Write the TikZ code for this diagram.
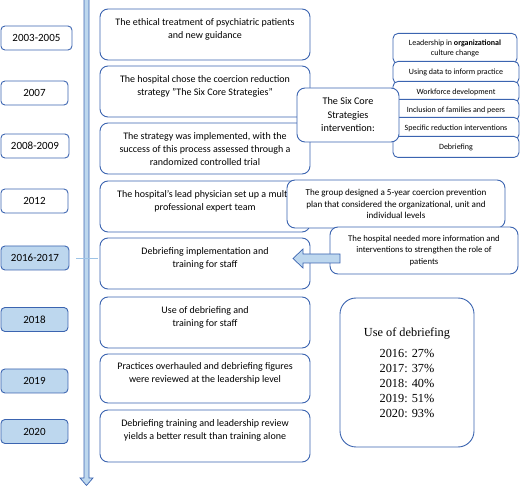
\documentclass[tikz,border=0pt]{standalone}
\usepackage{fontspec}
\setmainfont{Carlito}
\newfontfamily\statsfont{Liberation Serif}
\usepackage{tikz}
\usetikzlibrary{positioning}
\definecolor{edge}{HTML}{3B64B0}
\definecolor{lightb}{HTML}{BDD7EE}
\definecolor{tickc}{HTML}{9DC3E6}
\tikzset{
every picture/.style={
line width=0.9pt
}}
\newcommand{\evt}[1]{\parbox[c][37pt][t]{206pt}{\centering\strut #1}}

\begin{document}
\begin{tikzpicture}[x=1pt, y=-1pt,
year/.style = {draw=edge, fill=white, rounded corners=4pt, minimum height=24pt, inner sep=0pt, anchor=west, font=\fontsize{11}{13}\selectfont},
yearhl/.style = {year, fill=lightb},
event/.style = {draw=edge, fill=white, rounded corners=8pt, minimum width=210pt, minimum height=51pt, inner sep=0pt, font=\fontsize{10}{13}\selectfont},
strat/.style = {draw=edge, fill=white, rounded corners=5pt, minimum width=126pt, inner sep=1pt, anchor=north, align=center, font=\fontsize{8}{10}\selectfont},
note/.style = {draw=edge, fill=white, rounded corners=8pt, inner sep=0pt, align=center}]

\useasboundingbox (0,0) rectangle (520,486);

% years
\node [year, minimum width=71pt] at (0.5,38) (y0305) {2003-2005};
\node [year, minimum width=67pt] at (0.5,93) (y07) {2007};
\node [year, minimum width=68pt] at (0.5,146) (y0809) {2008-2009};
\node [year, minimum width=67pt] at (0.5,201) (y12) {2012};
\node [yearhl, minimum width=68pt] at (0.5,258) (y1617) {2016-2017};
\node [yearhl, minimum width=67pt] at (0.5,319.5) (y18) {2018};
\node [yearhl, minimum width=67pt] at (0.5,381) (y19) {2019};
\node [yearhl, minimum width=67pt] at (0.5,431.5) (y20) {2020};

% timeline
\draw [draw=edge, fill=lightb, line width=0.7pt] (84,-2) -- (84,478) -- (80,478) -- (86.5,485.5) -- (93,478) -- (89,478) -- (89,-2) -- cycle;
\draw [tickc, line width=0.7pt] ([xshift=7pt]y1617.east) -- ++(22pt,0);

% events
\node [event] at (205,34.5) (e1) {\evt{The ethical treatment of psychiatric patients\\and new guidance}};
\node [event] at (205,91.5) (e2) {\evt{The hospital chose the coercion reduction\\strategy "The Six Core Strategies"}};
\node [event] at (205,148.5) (e3) {\evt{The strategy was implemented, with the\\success of this process assessed through a\\randomized controlled trial}};
\node [event] at (205,206.5) (e4) {\evt{The hospital’s lead physician set up a multi-\\professional expert team}};
\node [event] at (205,263.5) (e5) {\evt{Debriefing implementation and\\training for staff}};
\node [event] at (205,322.5) (e6) {\evt{Use of debriefing and\\training for staff}};
\node [event, minimum height=49pt] at (205,378.5) (e7) {\evt{Practices overhauled and debriefing figures\\were reviewed at the leadership level}};
\node [event, minimum height=52pt] at (205,436) (e8) {\evt{Debriefing training and leadership review\\yields a better result than training alone}};

% six core strategies
\node [strat, minimum width=124pt, minimum height=30pt] at (455,33) (s1) {Leadership in \textbf{organizational}\\culture change};
\node [strat, minimum height=22pt] at (456,61) (s2) {Using data to inform practice};
\node [strat, minimum height=21pt] at (456,81) (s3) {Workforce development};
\node [strat, minimum height=21pt] at (456,99) (s4) {Inclusion of families and peers};
\node [strat, minimum height=22pt] at (456,117) (s5) {Specific reduction interventions};
\node [strat, minimum height=21pt] at (456,136) (s6) {Debriefing};
\node [note, minimum width=102pt, minimum height=54pt, font=\fontsize{10.2}{13.5}\selectfont] at (348,115) (six) {The Six Core\\Strategies\\intervention:};

\node [note, minimum width=218pt, minimum height=48pt, font=\fontsize{9.1}{11.7}\selectfont] at (396,204) (plan) {The group designed a 5-year coercion prevention\\plan that considered the organizational, unit and\\individual levels};
\node [note, minimum width=188pt, minimum height=47pt, font=\fontsize{8.7}{11.8}\selectfont] at (424,250.5) (need) {The hospital needed more information and\\interventions to strengthen the role of\\patients};

\draw [draw=edge, fill=lightb, line width=0.7pt] (340,254) -- (303,254) -- (303,249) -- (293,258.5) -- (303,268) -- (303,263) -- (340,263) -- cycle;

\node [note, rounded corners=16pt, minimum width=134pt, minimum height=149pt, font=\statsfont\fontsize{12.3}{15}\selectfont] at (407,372.5) (use) {Use of debriefing\\[6pt]2016: 27\%\\2017: 37\%\\2018: 40\%\\2019: 51\%\\2020: 93\%};

\end{tikzpicture}
\end{document}
